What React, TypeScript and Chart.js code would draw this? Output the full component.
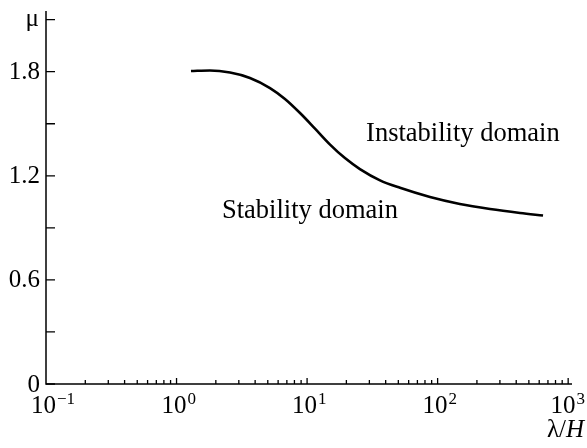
import React, { useEffect, useRef } from "react";
import { Chart, registerables } from "chart.js";

Chart.register(...registerables);

// Neutral-stability boundary mu(lambda/H)
const lambdaValues = [1.29, 1.8, 2.57, 3.65, 5.2, 6.77, 8.83, 11.5, 15.0, 19.5, 25.4, 36.2, 51.5, 87.4, 148, 252, 428, 642];
const muValues = [1.804, 1.807, 1.795, 1.764, 1.706, 1.643, 1.562, 1.472, 1.38, 1.302, 1.239, 1.174, 1.131, 1.078, 1.038, 1.009, 0.986, 0.971];

// Axis ticks
const yTickValues = [0, 0.3, 0.6, 0.9, 1.2, 1.5, 1.8, 2.1];
const yTickLabels = ["0", "", "0.6", "", "1.2", "", "1.8", "μ"];
const xDecadeExponents = [-1, 0, 1, 2, 3];
const xExponentLabels = ["\u22121", "0", "1", "2", "3"];

// Region captions, anchored in data space (left edge, baseline)
const regionTexts = ["Instability domain", "Stability domain"];
const regionLambda = [28.3, 2.23];
const regionMu = [1.4, 0.958];

const SERIF = '"Liberation Serif", "Times New Roman", serif';

const axesPlugin = {
  id: "paperAxes",
  afterDraw(chart: any) {
    const { ctx, chartArea } = chart;
    const xs = chart.scales.x;
    const ys = chart.scales.y;
    const { left, right, top, bottom } = chartArea;
    ctx.save();
    ctx.strokeStyle = "#000";
    ctx.fillStyle = "#000";

    // axis lines
    ctx.lineWidth = 1.5;
    ctx.beginPath();
    ctx.moveTo(left, top);
    ctx.lineTo(left, bottom);
    ctx.lineTo(right, bottom);
    ctx.stroke();

    // y ticks (inward)
    ctx.lineWidth = 1.3;
    ctx.beginPath();
    yTickValues.forEach((v) => {
      const y = ys.getPixelForValue(v);
      ctx.moveTo(left, y);
      ctx.lineTo(left + 9, y);
    });
    // x ticks (inward), major at decades, minor between
    xDecadeExponents.forEach((e) => {
      for (let m = 1; m <= 9; m++) {
        const v = m * Math.pow(10, e);
        if (v < xs.min - 1e-9 || v > xs.max) continue;
        const x = xs.getPixelForValue(v);
        if (Math.abs(x - left) < 1) continue;
        ctx.moveTo(x, bottom);
        ctx.lineTo(x, bottom - (m === 1 ? 6 : 4));
      }
    });
    ctx.stroke();

    // y tick labels
    ctx.font = `25px ${SERIF}`;
    ctx.textAlign = "right";
    yTickValues.forEach((v, i) => {
      const label = yTickLabels[i];
      if (!label) return;
      const y = ys.getPixelForValue(v);
      if (label === "μ") {
        ctx.textBaseline = "alphabetic";
        ctx.fillText(label, left - 7, y + 6);
      } else {
        ctx.textBaseline = "middle";
        ctx.fillText(label, left - 6, y + 1);
      }
    });

    // x tick labels: 10 with superscript exponent
    ctx.textAlign = "left";
    ctx.textBaseline = "alphabetic";
    const baseY = bottom + 29;
    xDecadeExponents.forEach((e, i) => {
      const x = xs.getPixelForValue(Math.pow(10, e));
      ctx.font = `25px ${SERIF}`;
      const wBase = ctx.measureText("10").width;
      ctx.font = `17px ${SERIF}`;
      const wExp = ctx.measureText(xExponentLabels[i]).width;
      let x0 = x - 15;
      if (x0 + wBase + wExp > chart.width - 3) x0 = chart.width - 3 - wBase - wExp;
      ctx.font = `25px ${SERIF}`;
      ctx.fillText("10", x0, baseY);
      ctx.font = `17px ${SERIF}`;
      ctx.fillText(xExponentLabels[i], x0 + wBase + 1, baseY - 9);
    });

    // x axis title: λ/H
    ctx.textAlign = "left";
    ctx.font = `italic 25px ${SERIF}`;
    const wH = ctx.measureText("H").width;
    ctx.font = `25px ${SERIF}`;
    const wLam = ctx.measureText("λ/").width;
    const tx = chart.width - 3 - wH - wLam;
    ctx.fillText("λ/", tx, bottom + 53);
    ctx.font = `italic 25px ${SERIF}`;
    ctx.fillText("H", tx + wLam, bottom + 53);

    // region captions
    ctx.font = `26.5px ${SERIF}`;
    regionTexts.forEach((t, i) => {
      ctx.fillText(t, xs.getPixelForValue(regionLambda[i]), ys.getPixelForValue(regionMu[i]));
    });

    ctx.restore();
  },
};

export default function App() {
  const canvasRef = useRef<HTMLCanvasElement | null>(null);

  useEffect(() => {
    const canvas = canvasRef.current;
    if (!canvas) return;
    const chart = new Chart(canvas, {
      type: "line",
      data: {
        datasets: [
          {
            data: lambdaValues.map((l, i) => ({ x: l, y: muValues[i] })),
            borderColor: "#000",
            borderWidth: 2.6,
            pointRadius: 0,
            fill: false,
            cubicInterpolationMode: "monotone",
          },
        ],
      },
      options: {
        responsive: false,
        animation: false,
        layout: { padding: { left: 46, top: 11, right: 15, bottom: 64 } },
        plugins: { legend: { display: false }, tooltip: { enabled: false } },
        scales: {
          x: { type: "logarithmic", min: 0.1, max: 1070, display: false },
          y: { type: "linear", min: 0, max: 2.15, display: false },
        },
      },
      plugins: [axesPlugin],
    });
    return () => chart.destroy();
  }, []);

  return (
    <div style={{ position: "absolute", left: 0, top: 0, width: 587, height: 448, background: "#fff" }}>
      <canvas ref={canvasRef} width={587} height={448} style={{ display: "block" }} />
    </div>
  );
}
